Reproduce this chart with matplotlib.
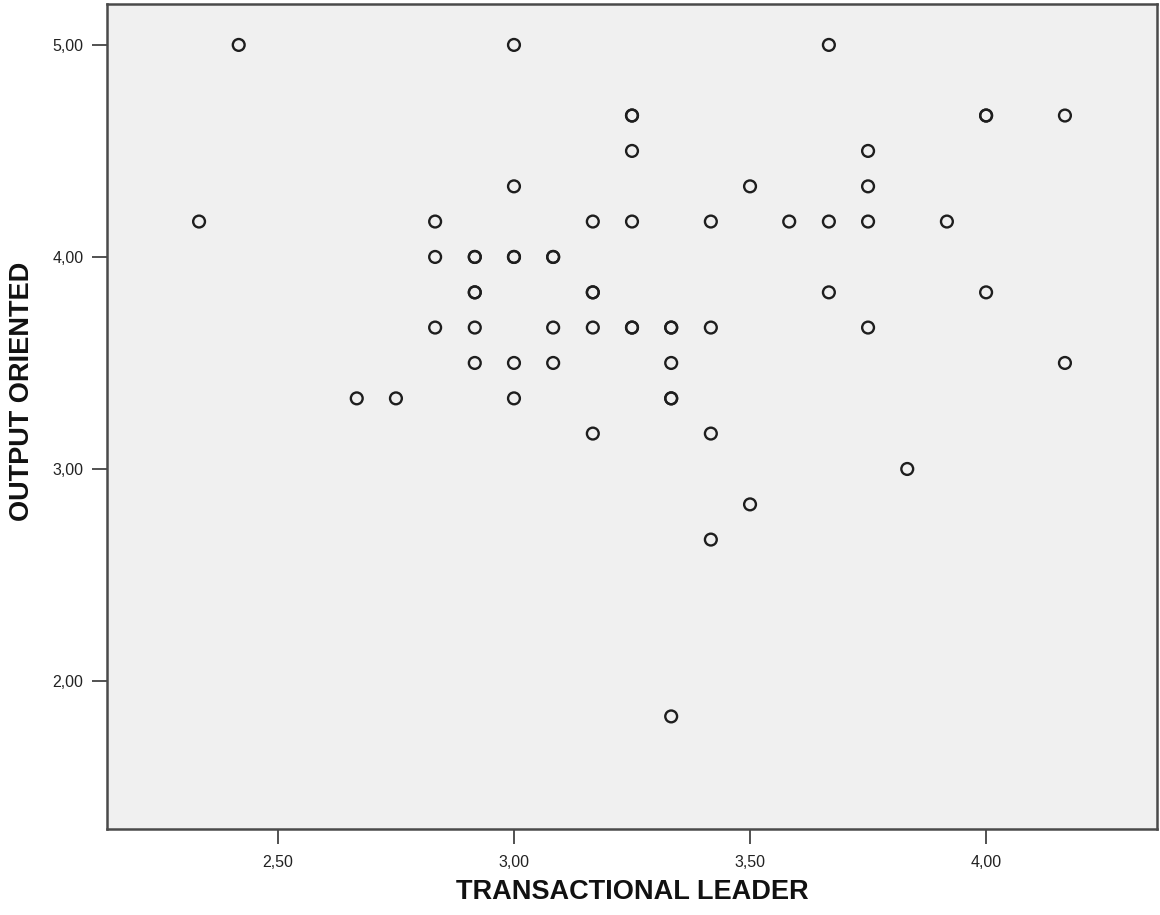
import matplotlib
matplotlib.use("Agg")
import matplotlib.pyplot as plt
from matplotlib.ticker import FuncFormatter

plt.rcParams['font.family'] = ['Liberation Sans', 'DejaVu Sans']

# transactional leader (x) and output oriented (y) scores, one entry per case
# (repeated pairs are cases that sit on top of each other)
leader = [
    2.417, 3.000, 3.667,
    3.250, 3.250, 4.000, 4.000, 4.167,
    3.250, 3.750,
    3.000, 3.500, 3.750,
    2.333, 2.833, 3.167, 3.250, 3.417, 3.583, 3.667, 3.750, 3.917,
    2.833, 2.917, 2.917, 3.000, 3.000, 3.083, 3.083,
    2.917, 2.917, 3.167, 3.167, 3.667, 4.000,
    2.833, 2.917, 3.083, 3.167, 3.250, 3.250, 3.333, 3.333, 3.417, 3.750,
    2.917, 3.000, 3.083, 3.333, 4.167,
    2.667, 2.750, 3.000, 3.333, 3.333,
    3.167, 3.417,
    3.833,
    3.500,
    3.417,
    3.333,
]
output = [
    5.000, 5.000, 5.000,
    4.667, 4.667, 4.667, 4.667, 4.667,
    4.500, 4.500,
    4.333, 4.333, 4.333,
    4.167, 4.167, 4.167, 4.167, 4.167, 4.167, 4.167, 4.167, 4.167,
    4.000, 4.000, 4.000, 4.000, 4.000, 4.000, 4.000,
    3.833, 3.833, 3.833, 3.833, 3.833, 3.833,
    3.667, 3.667, 3.667, 3.667, 3.667, 3.667, 3.667, 3.667, 3.667, 3.667,
    3.500, 3.500, 3.500, 3.500, 3.500,
    3.333, 3.333, 3.333, 3.333, 3.333,
    3.167, 3.167,
    3.000,
    2.833,
    2.667,
    1.833,
]

x_ticks = [2.5, 3.0, 3.5, 4.0]
y_ticks = [2.0, 3.0, 4.0, 5.0]
x_label = "TRANSACTIONAL LEADER"
y_label = "OUTPUT ORIENTED"

fig = plt.figure(figsize=(11.6, 9.15), dpi=100)
ax = fig.add_axes([107 / 1160, 86 / 915, 1050 / 1160, 825 / 915])
ax.set_facecolor('#f0f0f0')

ax.scatter(leader, output, s=8.5 ** 2, facecolors='none',
           edgecolors='#1e1e1e', linewidths=1.7, zorder=3)

ax.set_xlim(2.138, 4.362)
ax.set_ylim(1.302, 5.193)
ax.set_xticks(x_ticks)
ax.set_yticks(y_ticks)
comma = FuncFormatter(lambda v, pos: f"{v:.2f}".replace('.', ','))
ax.xaxis.set_major_formatter(comma)
ax.yaxis.set_major_formatter(comma)
ax.tick_params(direction='out', length=11, width=1.2, color='#333333',
               labelsize=11.5, labelcolor='#222222', pad=8)
ax.tick_params(axis='y', pad=6)

for sp in ax.spines.values():
    sp.set_color('#4a4a4a')
    sp.set_linewidth(1.8)

ax.set_xlabel(x_label, fontsize=19.5, fontweight='bold', color='#111111', labelpad=6)
ax.set_ylabel(y_label, fontsize=19.5, fontweight='bold', color='#111111')
# label sits a little above the axis centre in the reference
ax.yaxis.set_label_coords(-0.069, 0.53)

fig.savefig("out.png", dpi=100, facecolor='white')
